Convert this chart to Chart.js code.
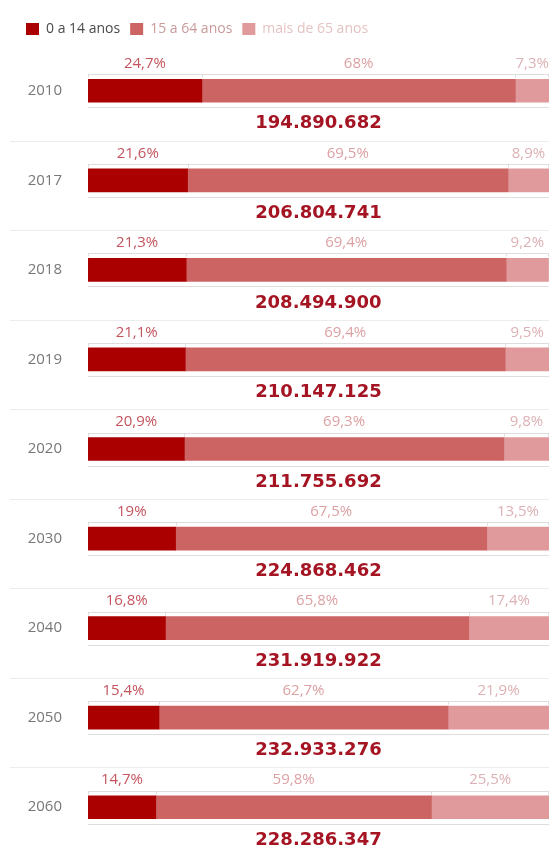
<!DOCTYPE html>
<html lang="pt-br">
  <head>
    <meta charset="UTF-8">
    <meta name="viewport" content="width=device-width, initial-scale=1.0">
    <title>População por faixa etária</title>
    <script src="https://cdn.jsdelivr.net/npm/chart.js"></script>
    <style>
      body { margin: 0; background: #fff; }
      #caixa { width: 560px; height: 852px; }
    </style>
  </head>

  <body>
    <div id="caixa">
      <canvas id="grafico1"></canvas>
    </div>

    <script>
      const anos = ["2010", "2017", "2018", "2019", "2020", "2030", "2040", "2050", "2060"]
      const jovens = [24.7, 21.6, 21.3, 21.1, 20.9, 19, 16.8, 15.4, 14.7]
      const adultos = [68, 69.5, 69.4, 69.4, 69.3, 67.5, 65.8, 62.7, 59.8]
      const idosos = [7.3, 8.9, 9.2, 9.5, 9.8, 13.5, 17.4, 21.9, 25.5]
      const totais = [194890682, 206804741, 208494900, 210147125, 211755692, 224868462, 231919922, 232933276, 228286347]

      const coresBarra = ["#aa0000", "#cd6464", "#e09a9c"]
      const coresPct = ["#c4545e", "#dca0a2", "#ddb0b4"]
      const coresLegenda = ["#4a4a4a", "#c99a9a", "#e6c3c3"]

      const fmtPct = v => String(v).replace(".", ",") + "%"
      const fmtTotal = n => String(n).replace(/\B(?=(\d{3})+(?!\d))/g, ".")

      // linhas finas, percentuais e total de cada ano
      const decoracao = {
        id: "decoracao",
        afterDatasetsDraw(chart) {
          const ctx = chart.ctx
          const area = chart.chartArea
          const metas = [0, 1, 2].map(d => chart.getDatasetMeta(d))
          ctx.save()
          anos.forEach((ano, i) => {
            const segs = metas.map(m => m.data[i].getProps(["x", "base", "y", "height"], true))
            const y = segs[0].y
            const h = segs[0].height
            const ini = segs[0].base
            const fim = segs[2].x

            // colchetes acima e abaixo da barra
            ctx.strokeStyle = "#dddddd"
            ctx.lineWidth = 1
            const yc = Math.round(y - h / 2 - 5) + 0.5
            const yb = Math.round(y + h / 2 + 5) + 0.5
            ctx.beginPath()
            ctx.moveTo(ini, yc); ctx.lineTo(fim, yc)
            ctx.moveTo(ini, yb); ctx.lineTo(fim, yb)
            segs.forEach(s => {
              ctx.moveTo(Math.round(s.base) + 0.5, yc); ctx.lineTo(Math.round(s.base) + 0.5, yc + 3)
            })
            ctx.moveTo(Math.round(fim) - 0.5, yc); ctx.lineTo(Math.round(fim) - 0.5, yc + 3)
            ctx.stroke()

            // percentuais
            ctx.font = "15px 'Open Sans'"
            ctx.textBaseline = "middle"
            const valores = [jovens[i], adultos[i], idosos[i]]
            segs.forEach((s, d) => {
              const txt = fmtPct(valores[d])
              const w = ctx.measureText(txt).width
              let cx = (s.base + s.x) / 2
              if (cx + w / 2 > area.right) cx = area.right - w / 2
              ctx.fillStyle = coresPct[d]
              ctx.textAlign = "center"
              ctx.fillText(txt, cx, y - 27)
            })

            // total da população
            ctx.font = "bold 18px 'DejaVu Sans'"
            ctx.fillStyle = "#a51423"
            ctx.textAlign = "center"
            ctx.fillText(fmtTotal(totais[i]), (ini + fim) / 2, y + 33)

            // separador entre os anos
            if (i < anos.length - 1) {
              const prox = metas[0].data[i + 1].getProps(["y"], true).y
              const ys = Math.round((y + prox) / 2 + 5) + 0.5
              ctx.strokeStyle = "#ececec"
              ctx.beginPath()
              ctx.moveTo(10, ys); ctx.lineTo(area.right, ys)
              ctx.stroke()
            }
          })
          ctx.restore()
        }
      }

      const ctx = document.getElementById("grafico1")

      let grafico1 = new Chart(ctx, {
        type: "bar",
        data: {
          labels: anos,
          datasets: [
            { label: "0 a 14 anos", data: jovens, backgroundColor: coresBarra[0] },
            { label: "15 a 64 anos", data: adultos, backgroundColor: coresBarra[1] },
            { label: "mais de 65 anos", data: idosos, backgroundColor: coresBarra[2] }
          ]
        },
        options: {
          indexAxis: "y",
          responsive: true,
          maintainAspectRatio: false,
          animation: false,
          datasets: { bar: { barThickness: 23 } },
          layout: { padding: { left: 16, right: 11, top: 12, bottom: 0 } },
          scales: {
            x: { stacked: true, min: 0, max: 100, display: false },
            y: {
              stacked: true,
              grid: { display: false, drawTicks: false },
              border: { display: false },
              ticks: { padding: 26, color: "#777777", font: { family: "Open Sans", size: 15 } },
              afterFit: scale => {
                scale.width = 72
                scale.paddingTop = 0
                scale.paddingBottom = 0
              }
            }
          },
          plugins: {
            tooltip: { enabled: false },
            legend: {
              position: "top",
              align: "start",
              labels: {
                boxWidth: 13,
                boxHeight: 12,
                padding: 10,
                font: { family: "Open Sans", size: 14 },
                generateLabels: chart => chart.data.datasets.map((ds, d) => ({
                  text: ds.label,
                  fillStyle: ds.backgroundColor,
                  strokeStyle: ds.backgroundColor,
                  lineWidth: 0,
                  fontColor: coresLegenda[d],
                  hidden: false,
                  datasetIndex: d
                }))
              }
            }
          }
        },
        plugins: [decoracao]
      });
    </script>
  </body>
</html>
